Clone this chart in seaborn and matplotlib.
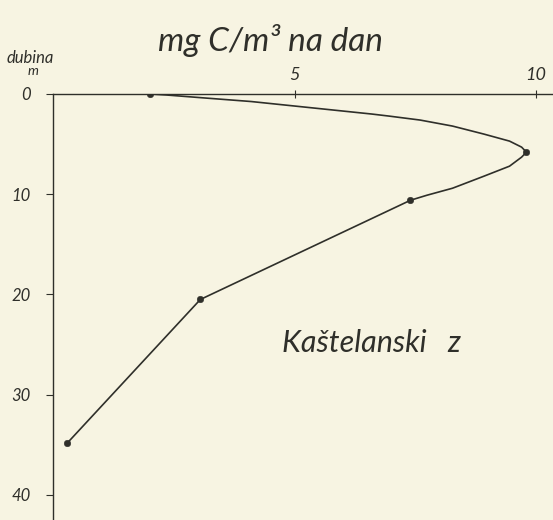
import numpy as np
import pandas as pd
import matplotlib
matplotlib.use("Agg")
import matplotlib.pyplot as plt
import seaborn as sns

# Mjerne točke (mg C/m3 na dan, dubina u m)
konc = [2.0, 9.8, 7.4, 3.05, 0.3]
dubina = [0, 5.8, 10.6, 20.5, 34.8]

# Krivulja kako je nacrtana rukom (očitano sa slike)
krivulja_konc = [2.0, 2.35, 3.15, 4.1, 5.0, 6.6, 6.95, 7.6, 8.27, 8.92, 9.45, 9.7, 9.8,
                 9.7, 9.45, 8.92, 8.27, 7.74, 7.4, 3.05, 0.3]
krivulja_dub = [0, 0.1, 0.4, 0.75, 1.2, 2.0, 2.2, 2.6, 3.2, 4.0, 4.7, 5.3, 5.8,
                6.3, 7.2, 8.2, 9.4, 10.1, 10.6, 20.5, 34.8]

x_ticks = [5, 10]
y_ticks = [0, 10, 20, 30, 40]

papir = "#f7f4e2"
tinta = "#2f2f2a"

sns.set_style("white")
plt.rcParams["font.family"] = ["Lato", "DejaVu Sans"]
plt.rcParams["font.style"] = "italic"

fig = plt.figure(figsize=(5.53, 5.2), dpi=100, facecolor=papir)
ax = fig.add_axes([53 / 553, 0, 500 / 553, 426 / 520])
ax.set_facecolor(papir)

df_k = pd.DataFrame({"konc": krivulja_konc, "dubina": krivulja_dub})
df_t = pd.DataFrame({"konc": konc, "dubina": dubina})

sns.lineplot(data=df_k, x="konc", y="dubina", sort=False, estimator=None,
             color=tinta, linewidth=1.2, ax=ax)
sns.scatterplot(data=df_t, x="konc", y="dubina", color=tinta, s=22,
                edgecolor=tinta, zorder=3, ax=ax)

ax.set_xlim(0, 10.35)
ax.set_ylim(42.5, 0)

ax.xaxis.tick_top()
ax.set_xticks(x_ticks)
ax.set_xticklabels([str(t) for t in x_ticks])
ax.set_yticks(y_ticks)
ax.set_yticklabels([str(t) for t in y_ticks])
ax.tick_params(axis="x", direction="inout", length=6, width=0.8, pad=5,
               colors=tinta, labelsize=13, top=True, bottom=False)
ax.tick_params(axis="y", direction="out", length=5, width=0.8, pad=11,
               colors=tinta, labelsize=12, left=True)
ax.set_xlabel("")
ax.set_ylabel("")

for s in ["right", "bottom"]:
    ax.spines[s].set_visible(False)
for s in ["top", "left"]:
    ax.spines[s].set_color(tinta)
    ax.spines[s].set_linewidth(1.0)

fig.text(0.49, 0.923, "mg C/m³ na dan", ha="center", va="center",
         fontsize=24, color=tinta)
fig.text(30 / 553, 1 - 58 / 520, "dubina", ha="center", va="center",
         fontsize=12, color=tinta)
fig.text(33 / 553, 1 - 71 / 520, "m", ha="center", va="center",
         fontsize=10, color=tinta)
ax.text(4.75, 24.8, "Kaštelanski   z", ha="left", va="center",
        fontsize=22, color=tinta)

fig.savefig("out.png", dpi=100, facecolor=papir)
